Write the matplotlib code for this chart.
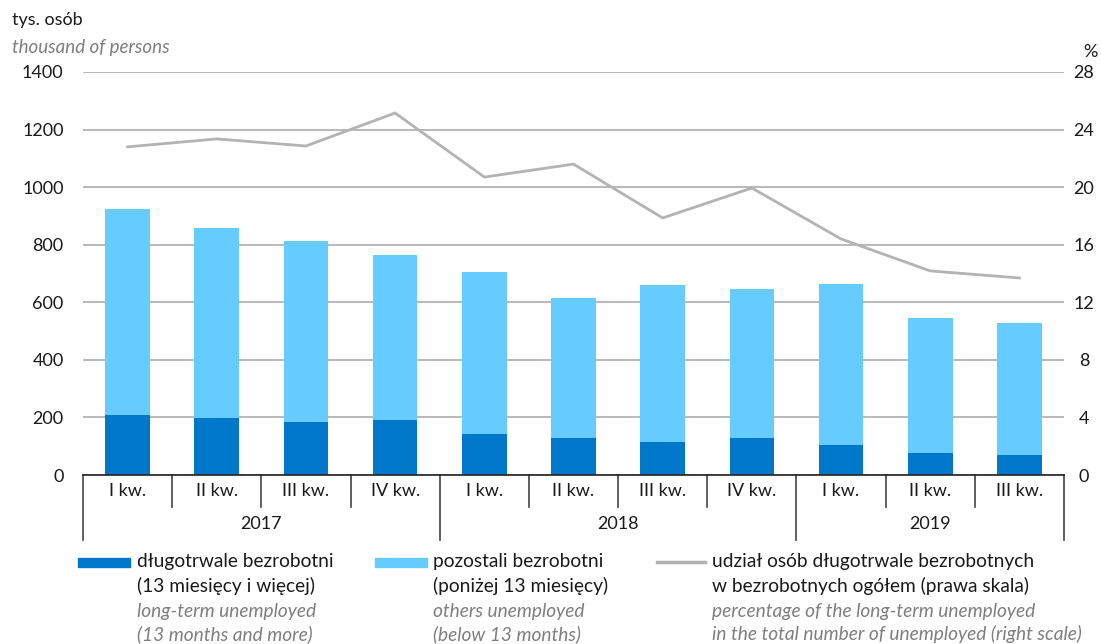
import matplotlib
matplotlib.use("Agg")
import matplotlib.pyplot as plt
from matplotlib.patches import Rectangle
from matplotlib.lines import Line2D

plt.rcParams.update({
    "font.family": ["Lato", "DejaVu Sans"],
    "font.size": 12.5,
})

quarters = ["I kw.", "II kw.", "III kw.", "IV kw.",
            "I kw.", "II kw.", "III kw.", "IV kw.",
            "I kw.", "II kw.", "III kw."]
years = ["2017", "2018", "2019"]
year_len = [4, 4, 3]
total = [924, 858, 813, 764, 705, 615, 660, 646, 663, 545, 528]
long_term = [208, 198, 184, 191, 142, 128, 115, 128, 104, 76, 69]
share = [22.8, 23.35, 22.86, 25.15, 20.7, 21.6, 17.86, 19.94, 16.4, 14.18, 13.69]

others = [t - l for t, l in zip(total, long_term)]

DARK = "#0077c8"
LIGHT = "#66ccff"
GRAY = "#b3b3b3"
TXT = "#1a1a1a"
ITAL = "#7f7f7f"

fig = plt.figure(figsize=(11.01, 6.44), dpi=100)
ax = fig.add_axes([83 / 1101, 0.2624, 981 / 1101, 0.6258])
x = list(range(len(quarters)))

ax.bar(x, long_term, width=0.5, color=DARK, zorder=3)
ax.bar(x, others, bottom=long_term, width=0.5, color=LIGHT, zorder=3)

ax.set_xlim(-0.5, len(quarters) - 0.5)
ax.set_ylim(0, 1400)
ax.set_yticks(range(0, 1401, 200))
ax.yaxis.grid(True, color=GRAY, linewidth=1.3, zorder=0)
ax.tick_params(axis="y", length=0, pad=14, labelsize=13, colors=TXT)
ax.set_xticks([])
for s in ["top", "right", "left"]:
    ax.spines[s].set_visible(False)
ax.spines["bottom"].set_color("#222222")
ax.spines["bottom"].set_linewidth(1.2)
ax.spines["bottom"].set_zorder(4)

ax2 = ax.twinx()
ax2.plot(x, share, color=GRAY, linewidth=2, zorder=5)
ax2.set_ylim(0, 28)
ax2.set_yticks(range(0, 29, 4))
ax2.tick_params(axis="y", length=0, pad=14.4, labelsize=13, colors=TXT)
for lab in ax2.get_yticklabels():
    lab.set_horizontalalignment("center")
for s in ax2.spines.values():
    s.set_visible(False)

# category axis labels and separators
tr = ax.get_xaxis_transform()
for i, q in enumerate(quarters):
    ax.text(i, -0.04, q, transform=tr, ha="center", va="center",
            fontsize=13, color=TXT)
bounds = [-0.5]
for n in year_len:
    bounds.append(bounds[-1] + n)
for b in range(len(quarters) + 1):
    pos = b - 0.5
    depth = -0.161 if pos in bounds else -0.079
    ax.plot([pos, pos], [0, depth], transform=tr, color="#444444",
            linewidth=1.2, clip_on=False)
for yr, a, b in zip(years, bounds[:-1], bounds[1:]):
    ax.text((a + b) / 2, -0.122, yr, transform=tr, ha="center", va="center",
            fontsize=13, color=TXT)

# axis titles
fig.text(12 / 1101, 1 - 20 / 644, "tys. osób", ha="left", va="center",
         fontsize=13, color=TXT)
fig.text(12 / 1101, 1 - 47 / 644, "thousand of persons", ha="left",
         va="center", fontsize=13.5, color=ITAL, style="italic")
fig.text(1090 / 1101, 1 - 52 / 644, "%", ha="center", va="center",
         fontsize=13, color=TXT)

# legend
def leg_text(xp, lines):
    ys = [562, 586, 611, 634]
    cols = [TXT, TXT, ITAL, ITAL]
    for t, yp, c, k in zip(lines, ys, cols, range(4)):
        fig.text(xp / 1101, 1 - yp / 644, t, ha="left", va="center",
                 fontsize=13.8, color=c, style="italic" if k >= 2 else "normal")

fig.patches.append(Rectangle((78 / 1101, 1 - 567 / 644), 52 / 1101, 9 / 644,
                             transform=fig.transFigure, color=DARK))
leg_text(137, ["długotrwale bezrobotni", "(13 miesięcy i więcej)",
               "long-term unemployed", "(13 months and more)"])
fig.patches.append(Rectangle((375 / 1101, 1 - 567 / 644), 52 / 1101, 9 / 644,
                             transform=fig.transFigure, color=LIGHT))
leg_text(433, ["pozostali bezrobotni", "(poniżej 13 miesięcy)",
               "others unemployed", "(below 13 months)"])
fig.lines.append(Line2D([657 / 1101, 705 / 1101], [1 - 562 / 644] * 2,
                        transform=fig.transFigure, color=GRAY, linewidth=2.5))
leg_text(712, ["udział osób długotrwale bezrobotnych",
               "w bezrobotnych ogółem (prawa skala)",
               "percentage of the long-term unemployed",
               "in the total number of unemployed (right scale)"])

fig.savefig("out.png", dpi=100)
